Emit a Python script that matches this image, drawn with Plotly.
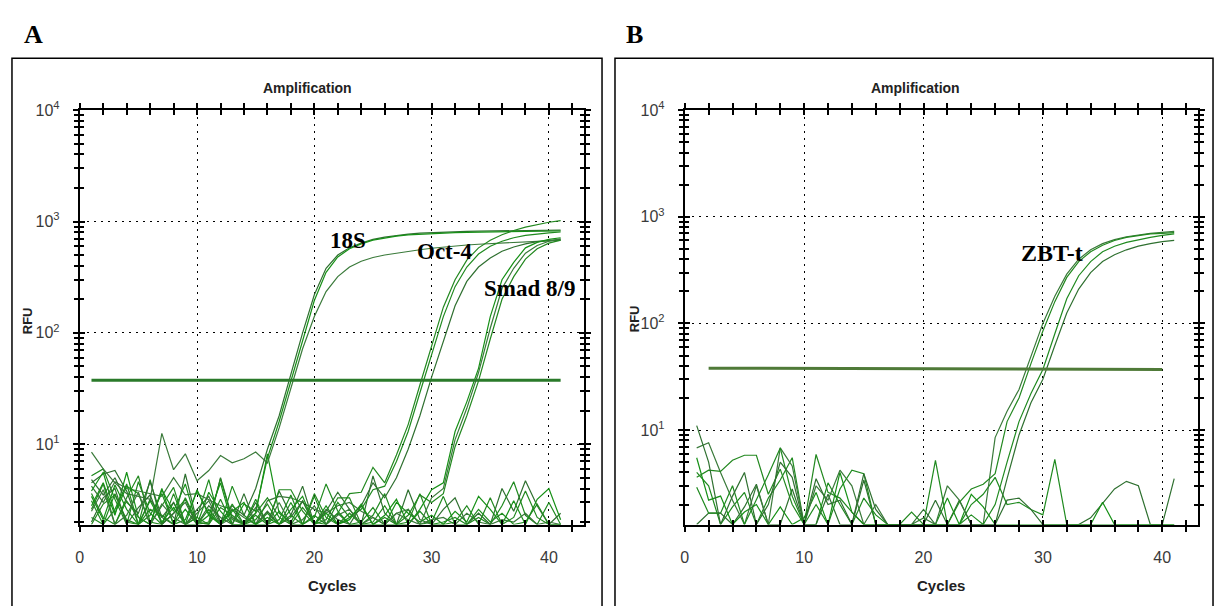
import math
import plotly.graph_objects as go

# ---------------- data ----------------
cycles = list(range(1, 42))

# Panel A: amplification curves (RFU per cycle)
a_18s_1 = [4.8, 3.5, 5.0, 3.0, 2.4, 4.6, 2.2, 3.0, 1.9, 2.6, 3.4, 2.0, 2.8, 2.3, 4.0,
           9.0, 18, 42, 100, 220, 380, 500, 580, 640, 690, 725, 750, 770, 785, 795, 805,
           810, 815, 820, 822, 825, 828, 830, 832, 835, 838]
a_18s_2 = [3.8, 5.6, 2.4, 4.2, 3.6, 1.9, 3.9, 2.5, 4.4, 1.9, 2.3, 4.5, 1.9, 2.9, 2.5,
           7.5, 16, 37, 88, 195, 350, 480, 570, 630, 680, 715, 740, 758, 770, 780, 788,
           795, 800, 804, 808, 811, 814, 816, 818, 820, 822]
a_18s_3 = [8.5, 6.0, 4.5, 3.6, 3.4, 3.2, 12.5, 5.9, 8.2, 4.7, 5.8, 7.9, 6.8, 7.4, 8.5,
           6.8, 14, 31, 72, 140, 235, 320, 390, 440, 475, 500, 520, 540, 558, 575, 590,
           603, 615, 625, 634, 642, 650, 657, 664, 670, 676]
a_oct4_1 = [2.6, 4.4, 1.9, 3.1, 2.2, 1.9, 2.8, 4.1, 1.9, 2.2, 1.9, 3.2, 1.9, 1.9, 2.4,
            3.3, 2.2, 1.9, 2.7, 2.0, 1.9, 2.4, 3.6, 3.7, 6.2,
            4.5, 8.0, 15, 34, 75, 170, 300, 450, 580, 680, 760, 830, 890, 940, 985, 1020]
a_oct4_2 = [3.1, 1.9, 2.6, 4.4, 1.9, 2.3, 3.6, 1.9, 2.1, 3.8, 2.4, 1.9, 2.9, 1.9, 3.2,
            1.9, 2.1, 3.5, 1.9, 2.3, 1.9, 3.0, 2.2, 2.6, 3.9,
            4.2, 7.0, 13, 29, 64, 140, 260, 390, 510, 600, 665, 715, 750, 775, 792, 805]
a_oct4_3 = [2.0, 3.3, 4.0, 1.9, 2.7, 3.5, 1.9, 2.4, 3.0, 1.9, 2.8, 2.2, 1.9, 3.6, 1.9,
            2.5, 1.9, 2.2, 3.1, 1.9, 2.6, 2.1, 1.9, 2.8, 4.5, 3.3,
            5.0, 9.0, 18, 40, 85, 175, 290, 390, 470, 540, 590, 630, 660, 680, 692]
a_smad_1 = [3.4, 2.1, 4.3, 2.6, 1.9, 3.1, 2.0, 2.7, 1.9, 3.9, 2.3, 1.9, 2.5, 3.0, 1.9,
            2.2, 1.9, 2.6, 3.4, 1.9, 2.4, 1.9, 2.1, 2.9, 1.9, 2.3, 3.2, 1.9, 2.6, 3.9,
            4.5, 13, 24, 48, 140, 300, 430, 580, 650, 690, 715]
a_smad_2 = [2.5, 3.9, 1.9, 2.3, 3.7, 1.9, 2.9, 2.2, 1.9, 2.4, 3.1, 1.9, 2.2, 1.9, 2.7,
            1.9, 3.0, 1.9, 2.1, 2.8, 1.9, 2.3, 2.6, 1.9, 2.2, 1.9, 2.4, 2.1, 1.9, 3.3,
            4.0, 11, 21, 44, 110, 250, 380, 520, 610, 665, 700]
a_smad_3 = [1.9, 2.9, 3.5, 2.1, 1.9, 2.6, 2.3, 1.9, 3.3, 2.0, 1.9, 2.7, 2.3, 1.9, 2.1,
            2.9, 1.9, 2.3, 1.9, 3.6, 2.2, 1.9, 2.4, 1.9, 2.0, 2.8, 1.9, 2.3, 3.5, 3.0,
            3.6, 9.5, 18, 37, 88, 200, 320, 460, 570, 640, 680]
# Panel A: non-amplifying wells
a_ntc_1 = [5.2, 6.0, 3.2, 1.9, 4.6, 2.4, 1.9, 3.0, 1.9, 2.2, 4.8, 1.9, 2.6, 1.9, 1.9,
           2.4, 1.9, 3.0, 1.9, 2.2, 4.4, 2.5, 1.9, 1.9, 2.3, 3.6, 1.9, 2.6, 1.9, 2.0,
           3.4, 1.9, 1.9, 2.2, 1.9, 2.8, 4.6, 2.3, 1.9, 3.0, 1.9]
a_ntc_2 = [4.5, 5.4, 5.8, 3.8, 1.9, 3.2, 2.2, 1.9, 5.4, 2.0, 1.9, 5.0, 2.2, 1.9, 3.0,
           1.9, 3.8, 2.3, 4.2, 1.9, 2.5, 3.7, 2.6, 1.9, 5.2, 2.4, 1.9, 3.9, 2.1, 1.9,
           2.6, 3.3, 1.9, 2.4, 1.9, 4.0, 2.5, 4.7, 2.8, 1.9, 2.4]
a_ntc_3 = [2.8, 4.5, 2.3, 5.6, 2.2, 1.9, 4.0, 1.9, 2.6, 1.9, 3.7, 2.5, 1.9, 1.9, 2.4,
           8.2, 2.4, 2.0, 3.1, 1.9, 2.8, 1.9, 2.2, 2.8, 1.9, 1.9, 3.0, 2.4, 2.0, 2.3,
           1.9, 2.5, 2.0, 3.4, 2.6, 1.9, 3.1, 1.9, 3.2, 4.0, 2.1]
a_ntc_4 = [4.2, 3.0, 4.6, 4.0, 3.8, 3.6, 3.4, 5.0, 3.5, 3.6, 3.2, 2.8, 2.6, 2.2, 1.9,
           3.1, 3.4, 3.3, 3.0, 2.6, 2.4, 2.8, 3.0, 2.5, 2.2, 1.9, 2.4, 2.6, 1.9, 2.1,
           2.2, 1.9, 2.4, 2.0, 1.9, 2.1, 2.0, 2.4, 1.9, 2.0, 1.9]
a_ntc_5 = [3.6, 2.2, 1.9, 3.3, 5.2, 2.0, 1.9, 3.6, 1.9, 1.9, 2.0, 4.9, 2.1, 1.9, 2.3,
           1.9, 3.9, 3.9, 2.5, 1.9, 2.1, 3.3, 3.3, 1.9, 1.9, 2.2, 1.9, 2.0, 3.6, 1.9,
           1.9, 2.0, 2.8, 1.9, 3.3, 1.9, 2.2, 3.8, 2.2, 1.9, 1.9]
a_ntc_6 = [2.2, 1.9, 3.6, 2.0, 1.9, 4.8, 1.9, 2.4, 3.2, 1.9, 2.6, 1.9, 4.2, 2.3, 1.9,
           1.9, 2.5, 1.9, 1.9, 3.4, 1.9, 2.4, 1.9, 2.0, 2.7, 1.9, 1.9, 1.9, 2.5, 1.9,
           2.0, 2.2, 1.9, 2.6, 2.0, 2.4, 1.9, 2.0, 2.9, 1.9, 1.9]
a_threshold = 37.5
a_threshold_cycles = [1, 41]

# Panel B: ZBT-t amplification curves
b_zbt_1 = [6.8, 7.6, 4.0, 2.2, 1.3, 3.0, 1.3, 6.8, 4.6, 1.3, 3.0, 2.2, 4.2, 3.0, 1.3,
           2.0, 1.3, 1.3, 1.3, 1.5, 1.3, 3.0, 2.2, 1.3, 1.3,
           8.5, 15, 24, 50, 100, 180, 290, 400, 490, 560, 610, 650, 680, 700, 715, 730]
b_zbt_2 = [3.6, 4.2, 4.1, 5.2, 5.8, 5.8, 2.5, 4.3, 2.0, 1.3, 5.9, 2.6, 2.3, 1.7, 1.3,
           1.3, 1.3, 1.3, 1.7, 1.3, 1.3, 1.3,
           2.1, 2.8, 3.1, 3.9, 12, 20, 42, 85, 160, 270, 380, 470, 540, 600, 640, 670,
           690, 700, 710]
b_zbt_3 = [2.9, 1.66, 1.66, 3.0, 1.3, 2.2, 3.8, 6.8, 2.4, 1.3, 2.0, 1.3, 2.8, 4.2, 3.9,
           1.3, 1.3, 1.3, 1.3, 1.3, 5.2, 1.3, 1.3, 1.6, 1.3,
           2.0, 5.0, 12, 22, 37, 80, 170, 280, 380, 470, 530, 575, 610, 640, 668, 690]
b_zbt_4 = [11.0, 5.0, 1.3, 2.4, 4.0, 1.3, 2.0, 5.0, 3.6, 1.3, 3.5, 2.0, 2.2, 1.3, 3.9,
           1.8, 1.3, 1.3, 1.3, 1.3, 2.2, 1.3, 1.3, 1.3, 1.3, 1.3,
           3.5, 9, 18, 30, 62, 125, 210, 300, 380, 440, 490, 530, 560, 585, 600]
# Panel B: non-amplifying wells
b_ntc_1 = [4.0, 3.0, 1.3, 1.9, 2.6, 1.3, 2.3, 3.4, 5.5, 1.3, 1.3, 3.2, 2.0, 1.3, 2.3,
           1.6, 1.3, 1.3, 1.3, 1.3, 1.3, 1.3, 1.3, 2.0, 2.5, 3.6, 2.0, 2.1, 1.8, 1.6,
           5.3, 1.3, 1.3, 1.3, 1.3, 1.3, 1.3, 1.3, 1.3, 1.3, 1.3]
b_ntc_2 = [1.3, 1.66, 1.66, 1.3, 1.9, 3.1, 1.3, 1.3, 2.8, 1.3, 1.3, 2.5, 1.3, 1.3, 3.4,
           1.3, 1.3, 1.3, 1.3, 1.8, 1.3, 1.3, 2.2, 1.3, 1.3, 1.3, 2.2, 2.3, 1.8, 1.3,
           1.3, 1.3, 1.3, 1.5, 2.05, 2.8, 3.3, 3.0, 1.3, 1.3, 3.5]
b_ntc_3 = [5.5, 2.2, 2.4, 1.3, 1.7, 2.0, 1.3, 1.9, 1.3, 1.5, 2.6, 1.3, 4.0, 1.7, 1.3,
           1.3, 1.3, 1.3, 1.3, 1.3, 1.3, 2.3, 1.3, 2.5, 1.9, 1.3, 1.3, 1.3, 1.3, 1.3,
           1.3, 1.3, 1.3, 1.3, 2.1, 1.3, 1.3, 1.3, 1.3, 1.3, 1.3]
b_threshold = [38.0, 37.0]
b_threshold_cycles = [2, 40]

x_tick_vals = [0, 10, 20, 30, 40]
x_minor_vals = [2, 4, 6, 8, 12, 14, 16, 18, 22, 24, 26, 28, 32, 34, 36, 38, 42]
y_tick_vals = [10, 100, 1000, 10000]
y_tick_text = ["10<sup>1</sup>", "10<sup>2</sup>", "10<sup>3</sup>", "10<sup>4</sup>"]
y_minor_vals = [m * d for d in (1, 10, 100, 1000) for m in range(2, 10)]

panel_a_curves = [a_ntc_1, a_ntc_2, a_ntc_3, a_ntc_4, a_ntc_5, a_ntc_6,
                  a_18s_1, a_18s_2, a_18s_3, a_oct4_1, a_oct4_2, a_oct4_3,
                  a_smad_1, a_smad_2, a_smad_3]
panel_b_curves = [b_ntc_1, b_ntc_2, b_ntc_3, b_zbt_1, b_zbt_2, b_zbt_3, b_zbt_4]

# ---------------- styling ----------------
W, H = 1219, 606
def px(x):
    return x / W
def py(y):
    return 1 - y / H

line_colors = ["#1f8a1f", "#2f7030", "#169016", "#3a7a3a", "#22881f"]
SANS = "Liberation Sans, Arial, sans-serif"
SERIF = "Liberation Serif, Times New Roman, serif"

fig = go.Figure()

def add_curves(curves, xa, ya):
    for i, vals in enumerate(curves):
        fig.add_trace(go.Scatter(
            x=cycles, y=vals, mode="lines", xaxis=xa, yaxis=ya,
            line=dict(color=line_colors[i % len(line_colors)], width=1.2),
            showlegend=False, hoverinfo="skip"))

add_curves(panel_a_curves, "x", "y")
add_curves(panel_b_curves, "x2", "y2")

fig.add_trace(go.Scatter(x=a_threshold_cycles, y=[a_threshold, a_threshold], mode="lines",
                         xaxis="x", yaxis="y", line=dict(color="#2a7a2a", width=3),
                         showlegend=False, hoverinfo="skip"))
fig.add_trace(go.Scatter(x=b_threshold_cycles, y=b_threshold, mode="lines",
                         xaxis="x2", yaxis="y2", line=dict(color="#4f7a38", width=3),
                         showlegend=False, hoverinfo="skip"))
# empty traces to realise the overlay (inside tick) axes
fig.add_trace(go.Scatter(x=[None], y=[None], xaxis="x3", yaxis="y3", showlegend=False))
fig.add_trace(go.Scatter(x=[None], y=[None], xaxis="x4", yaxis="y4", showlegend=False))

tickfont = dict(family=SANS, size=16, color="#3a3a3a")

def xaxis(domain, anchor, overlay=None):
    d = dict(domain=domain, anchor=anchor, range=[0, 43], tickmode="array",
             tickvals=x_tick_vals, ticks="outside", ticklen=5, tickwidth=1.5,
             tickcolor="black",
             minor=dict(tickmode="array", tickvals=x_minor_vals, ticks="outside",
                        ticklen=5, tickwidth=1.5, tickcolor="black", showgrid=False),
             showline=True, linecolor="black", linewidth=2, mirror="ticks",
             showgrid=True, gridcolor="black", gridwidth=1.2, griddash="2px,5px",
             zeroline=False, tickfont=tickfont, ticklabelstandoff=12, fixedrange=True)
    if overlay:
        d.update(overlaying=overlay, ticks="inside", showticklabels=False, showgrid=False,
                 minor=dict(tickmode="array", tickvals=x_minor_vals, ticks="inside",
                            ticklen=5, tickwidth=1.5, tickcolor="black", showgrid=False))
    return d

def yaxis(domain, anchor, lo, overlay=None):
    d = dict(domain=domain, anchor=anchor, type="log", range=[math.log10(lo), 4],
             tickmode="array", tickvals=y_tick_vals, ticktext=y_tick_text,
             ticks="outside", ticklen=5, tickwidth=1.5, tickcolor="black",
             minor=dict(tickmode="array", tickvals=y_minor_vals, ticks="outside",
                        ticklen=4, tickwidth=1.5, tickcolor="black", showgrid=False),
             showline=True, linecolor="black", linewidth=2, mirror="ticks",
             showgrid=True, gridcolor="black", gridwidth=1.2, griddash="2px,5px",
             zeroline=False, tickfont=tickfont, ticklabelstandoff=10, fixedrange=True)
    if overlay:
        d.update(overlaying=overlay, ticks="inside", showticklabels=False, showgrid=False,
                 minor=dict(tickmode="array", tickvals=y_minor_vals, ticks="inside",
                            ticklen=4, tickwidth=1.5, tickcolor="black", showgrid=False))
    return d

dom_y = [py(523), py(101)]
dom_xa = [px(76), px(582)]
dom_xb = [px(683), px(1198)]

fig.update_layout(
    width=W, height=H, margin=dict(l=0, r=0, t=0, b=0),
    paper_bgcolor="white", plot_bgcolor="white",
    xaxis=xaxis(dom_xa, "y"), yaxis=yaxis(dom_y, "x", 1.9),
    xaxis2=xaxis(dom_xb, "y2"), yaxis2=yaxis(dom_y, "x2", 1.3),
    xaxis3=xaxis(dom_xa, "y", overlay="x"), yaxis3=yaxis(dom_y, "x", 1.9, overlay="y"),
    xaxis4=xaxis(dom_xb, "y2", overlay="x2"), yaxis4=yaxis(dom_y, "x2", 1.3, overlay="y2"),
)

# panel frames
for x0, x1 in [(8, 600), (613, 1213)]:
    fig.add_shape(type="rect", xref="paper", yref="paper", x0=px(x0), x1=px(x1),
                  y0=-0.05, y1=py(48), line=dict(color="black", width=1.5),
                  fillcolor="rgba(0,0,0,0)", layer="above")

def ann(text, x, y, size, family, color="black", angle=0):
    fig.add_annotation(text=text, x=px(x), y=py(y), xref="paper", yref="paper",
                       showarrow=False, font=dict(family=family, size=size, color=color),
                       xanchor="center", yanchor="middle", textangle=angle)

ann("<b>A</b>", 30, 24, 26, SERIF)
ann("<b>B</b>", 633, 24, 26, SERIF)
ann("<b>Amplification</b>", 304, 78, 14, SANS, "#222")
ann("<b>Amplification</b>", 915, 78, 14, SANS, "#222")
ann("<b>RFU</b>", 23, 315, 13, SANS, "#222", -90)
ann("<b>RFU</b>", 632, 313, 13, SANS, "#222", -90)
ann("<b>Cycles</b>", 329, 585, 15, SANS, "#222")
ann("<b>Cycles</b>", 940, 585, 15, SANS, "#222")
ann("<b>18S</b>", 345, 234, 23, SERIF)
ann("<b>Oct-4</b>", 442, 245, 23, SERIF)
ann("<b>Smad 8/9</b>", 527, 283, 23, SERIF)
ann("<b>ZBT-t</b>", 1051, 246, 24, SERIF)

fig.write_html("out.html")
